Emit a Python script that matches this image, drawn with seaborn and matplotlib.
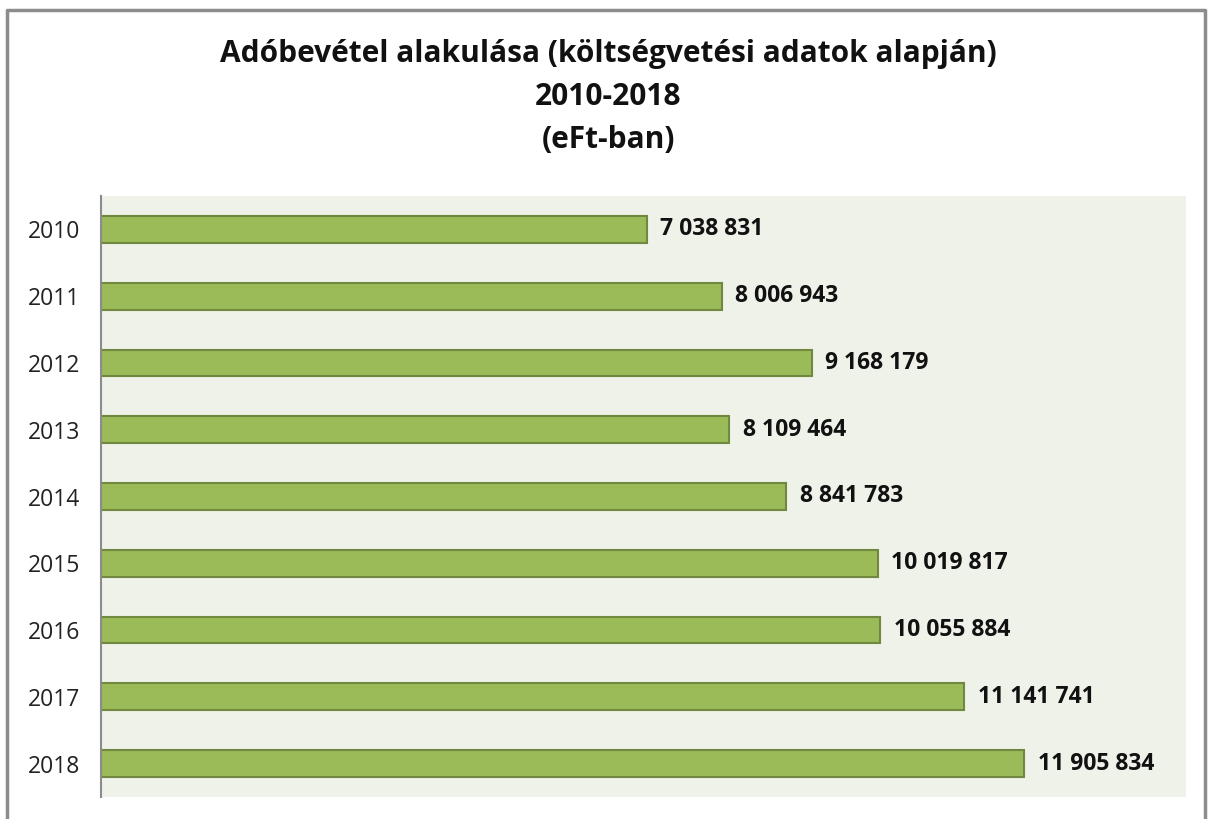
import matplotlib as mpl
import matplotlib.pyplot as plt
import seaborn as sns
import pandas as pd

years = ['2010', '2011', '2012', '2013', '2014', '2015', '2016', '2017', '2018']
revenue = [7038831, 8006943, 9168179, 8109464, 8841783, 10019817, 10055884, 11141741, 11905834]

title = 'Adóbevétel alakulása (költségvetési adatok alapján)\n2010-2018\n(eFt-ban)'

df = pd.DataFrame({'year': years, 'revenue': revenue})

sns.set_style('white')
plt.rcParams['font.family'] = ['Open Sans', 'DejaVu Sans']

fig = plt.figure(figsize=(12.12, 8.19), dpi=100)
ax = fig.add_axes([101 / 1212, 1 - 797 / 819, (1186 - 101) / 1212, (797 - 196) / 819])
ax.set_facecolor('#eff2e9')

sns.barplot(data=df, x='revenue', y='year', orient='h', ax=ax, width=0.4,
            color='#9bbb59', edgecolor='#71893f', linewidth=1.5, saturation=1)

ax.set_xlim(0, 14000000)
ax.set_xticks([])
ax.set_xlabel('')
ax.set_ylabel('')
for s in ['top', 'right', 'bottom']:
    ax.spines[s].set_visible(False)
ax.spines['left'].set_color('#8c8c8c')
ax.spines['left'].set_linewidth(1.5)
ax.tick_params(axis='y', length=0, pad=15, labelsize=16.5, labelcolor='#222222')

for i, v in enumerate(revenue):
    ax.text(v + 180000, i, f'{v:,}'.replace(',', ' '), va='center', ha='left',
            fontsize=16.5, fontweight='bold', color='#111111')

fig.text(0.502, 0.952, title, ha='center', va='top', fontsize=21.5,
         fontweight='bold', linespacing=1.56, color='#111111')

# outer chart frame
fig.add_artist(mpl.lines.Line2D([7 / 1212, 7 / 1212, 1205 / 1212, 1205 / 1212],
                                [0, 1 - 10 / 819, 1 - 10 / 819, 0],
                                color='#8c8c8c', lw=2.5))

plt.savefig('out.png', dpi=100)
